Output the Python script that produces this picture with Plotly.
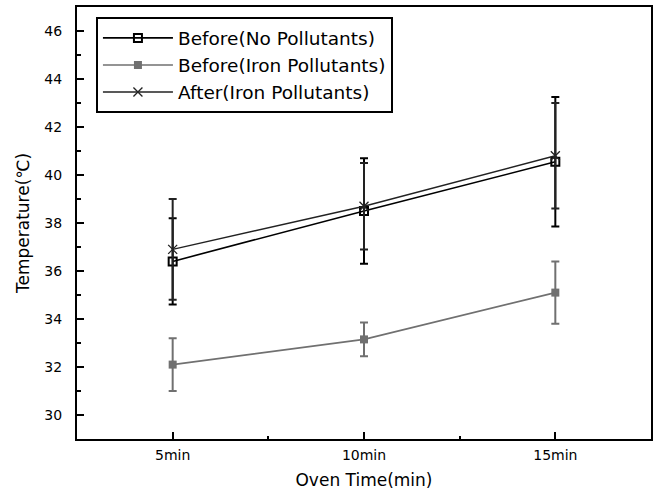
import plotly.graph_objects as go

# Data
x_vals = [5, 10, 15]
x_labels = ["5min", "10min", "15min"]

before_no = [36.4, 38.5, 40.55]
before_no_err = [1.8, 2.2, 2.7]

before_iron = [32.1, 33.15, 35.1]
before_iron_err = [1.1, 0.7, 1.3]

after_iron = [36.9, 38.7, 40.8]
after_iron_err = [2.1, 1.8, 2.2]

y_ticks = [30, 32, 34, 36, 38, 40, 42, 44, 46]

FONT = "DejaVu Sans"
GRAY = "#707070"

fig = go.Figure()

fig.add_trace(go.Scatter(
    x=x_vals, y=before_no, name="Before(No Pollutants)",
    mode="lines+markers",
    line=dict(color="black", width=1.6),
    marker=dict(symbol="square-open", size=8, color="black", line=dict(width=2, color="black")),
    error_y=dict(type="data", array=before_no_err, visible=True, color="black", thickness=2, width=4),
))

fig.add_trace(go.Scatter(
    x=x_vals, y=before_iron, name="Before(Iron Pollutants)",
    mode="lines+markers",
    line=dict(color=GRAY, width=1.6),
    marker=dict(symbol="square", size=8, color=GRAY),
    error_y=dict(type="data", array=before_iron_err, visible=True, color=GRAY, thickness=2, width=4),
))

fig.add_trace(go.Scatter(
    x=x_vals, y=after_iron, name="After(Iron Pollutants)",
    mode="lines+markers",
    line=dict(color="#222222", width=1.4),
    marker=dict(symbol="x-thin-open", size=9, color="#222222", line=dict(width=1.3, color="#222222")),
    error_y=dict(type="data", array=after_iron_err, visible=True, color="#222222", thickness=2, width=4),
))

fig.update_layout(
    width=660, height=502,
    margin=dict(l=77, r=9, t=5, b=63),
    paper_bgcolor="white", plot_bgcolor="white",
    font=dict(family=FONT, color="black"),
    showlegend=True,
    legend=dict(
        x=0.033, y=0.976, xanchor="left", yanchor="top",
        bgcolor="white", bordercolor="black", borderwidth=2,
        font=dict(size=18.5, family=FONT, color="black"),
        itemwidth=70, tracegroupgap=0,
    ),
    xaxis=dict(
        range=[2.5, 17.5],
        tickmode="array", tickvals=x_vals, ticktext=x_labels,
        ticks="inside", ticklen=7, tickwidth=2, tickcolor="black",
        minor=dict(tickmode="array", tickvals=[7.5, 12.5], ticks="inside", ticklen=3, tickwidth=2, tickcolor="black"),
        showline=True, linecolor="black", linewidth=2, mirror=True,
        showgrid=False, zeroline=False,
        tickfont=dict(size=14, family=FONT),
        ticklabelstandoff=2,
        title=dict(text="Oven Time(min)", font=dict(size=17, family=FONT), standoff=12),
    ),
    yaxis=dict(
        range=[29, 47],
        tickmode="array", tickvals=y_ticks,
        ticks="inside", ticklen=7, tickwidth=2, tickcolor="black",
        minor=dict(tickmode="array", tickvals=[31, 33, 35, 37, 39, 41, 43, 45], ticks="inside", ticklen=4, tickwidth=2, tickcolor="black"),
        showline=True, linecolor="black", linewidth=2, mirror=True,
        showgrid=False, zeroline=False,
        tickfont=dict(size=14, family=FONT),
        ticklabelstandoff=10,
        title=dict(text="Temperature(℃)", font=dict(size=17, family=FONT), standoff=10),
    ),
)

fig.write_html("out.html")
